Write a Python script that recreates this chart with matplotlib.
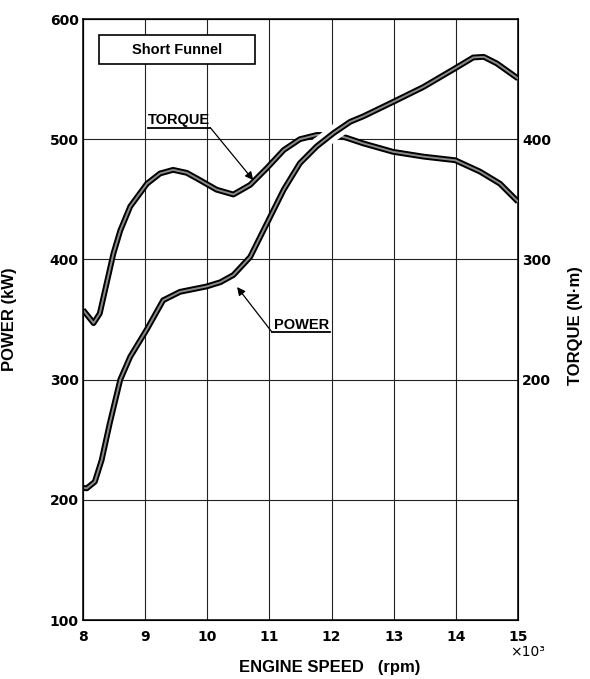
import matplotlib
matplotlib.use("Agg")
import matplotlib.pyplot as plt
from matplotlib.patches import Rectangle
import numpy as np

# engine speed in 10^3 rpm
torque_rpm = [8.0, 8.17, 8.27, 8.38, 8.49, 8.60, 8.76, 9.03, 9.24, 9.45, 9.67, 9.88,
              10.15, 10.42, 10.69, 10.96, 11.23, 11.49, 11.76, 12.08, 12.25, 12.51,
              12.99, 13.48, 13.99, 14.39, 14.71, 15.0]
torque_nm = [258, 247, 255, 280, 305, 324, 344, 363, 371.5, 374.5, 372, 366,
             358, 354, 362, 376, 391, 400, 403.5, 403.5, 401, 396.5,
             389.5, 385.5, 382.5, 373, 363, 348]

power_rpm = [8.0, 8.06, 8.19, 8.30, 8.43, 8.60, 8.76, 9.03, 9.29, 9.56, 9.99, 10.21,
             10.42, 10.69, 10.96, 11.23, 11.49, 11.76, 12.03, 12.30, 12.51, 12.99,
             13.48, 13.99, 14.28, 14.45, 14.66, 15.0]
power_kw = [210, 209.5, 215, 233, 263.5, 300, 319, 342, 366, 373, 377.5, 381,
            387, 402, 430, 458, 480, 494, 505, 514.5, 519, 531,
            543.5, 559, 568, 568.5, 563, 550.5]

x_ticks = [8, 9, 10, 11, 12, 13, 14, 15]
power_ticks = [100, 200, 300, 400, 500, 600]
torque_ticks = [200, 300, 400]

fig = plt.figure(figsize=(5.9, 6.79), dpi=100)
ax = fig.add_axes([83 / 590, 59 / 679, 435 / 590, 601 / 679])
ax2 = ax.twinx()

ax.set_xlim(8, 15)
ax.set_ylim(100, 600)
ax2.set_ylim(0, 500)

# grid
ax.set_xticks(x_ticks)
ax.set_yticks(power_ticks)
ax2.set_yticks(torque_ticks)
ax.grid(True, color="#222222", lw=0.8)
ax.set_axisbelow(True)
for s in ax.spines.values():
    s.set_linewidth(1.1)
ax.tick_params(length=0, labelsize=10, pad=3)
ax.tick_params(axis="x", pad=7)
ax2.tick_params(length=0, labelsize=10, pad=3)
for lab in ax.get_xticklabels() + ax.get_yticklabels() + ax2.get_yticklabels():
    lab.set_fontweight("bold")
    lab.set_family("DejaVu Sans")

line_kw = dict(solid_joinstyle="round", solid_capstyle="butt")

# torque curve (drawn in the torque axis scale)
ax.plot(torque_rpm, torque_nm, color="black", lw=4.2,
        transform=ax2.transData, zorder=3, **line_kw)
ax.plot(torque_rpm, torque_nm, color="#8a8a8a", lw=1.4,
        transform=ax2.transData, zorder=3.1, **line_kw)

# white gap where power passes over torque
prpm = np.array(power_rpm)
pkw = np.array(power_kw)
near = (prpm > 11.5) & (prpm < 12.4)
ax.plot(prpm[near], pkw[near], color="white", lw=11, zorder=3.5)

# power curve
ax.plot(power_rpm, power_kw, color="black", lw=4.2, zorder=4, **line_kw)
ax.plot(power_rpm, power_kw, color="#8a8a8a", lw=1.4, zorder=4.1, **line_kw)

# labels on the curves
lab_font = dict(family="Liberation Sans", fontweight="bold", fontsize=10.5)
ax.text(9.05, 516, "TORQUE", ha="left", va="center", **lab_font)
ax.plot([9.05, 10.05], [509.5, 509.5], color="black", lw=1.3, zorder=5)
ax.annotate("", xy=(10.74, 466), xytext=(10.05, 509.5),
            arrowprops=dict(arrowstyle="-|>", color="black", lw=0.9,
                            mutation_scale=12, shrinkA=0, shrinkB=0), zorder=5)

ax.text(11.08, 345.5, "POWER", ha="left", va="center", **lab_font)
ax.plot([11.04, 11.98], [339.6, 339.6], color="black", lw=1.3, zorder=5)
ax.annotate("", xy=(10.48, 377), xytext=(11.04, 339.6),
            arrowprops=dict(arrowstyle="-|>", color="black", lw=0.9,
                            mutation_scale=12, shrinkA=0, shrinkB=0), zorder=5)

# legend box
ax.add_patch(Rectangle((8.26, 562.6), 2.51, 24.1, fill=True, facecolor="white",
                       edgecolor="black", lw=1.2, zorder=5))
ax.text(9.51, 574.5, "Short Funnel", ha="center", va="center", zorder=6, **lab_font)

# axis titles
title_font = dict(family="Liberation Sans", fontweight="bold", fontsize=12)
ax.set_xlabel("ENGINE SPEED   (rpm)", **title_font)
ax.xaxis.set_label_coords(0.568, -0.066)
ax.set_ylabel("POWER (kW)", **title_font)
ax.yaxis.set_label_coords(-0.152, 0.5)
ax2.set_ylabel("TORQUE (N·m)", rotation=90, va="center", ha="center", **title_font)
ax2.yaxis.set_label_coords(1.133, 0.49)

fig.text(510 / 590, 1 - 652 / 679, "×10³", ha="left", va="center",
         family="DejaVu Sans", fontsize=10)

plt.savefig("out.png", dpi=100)
